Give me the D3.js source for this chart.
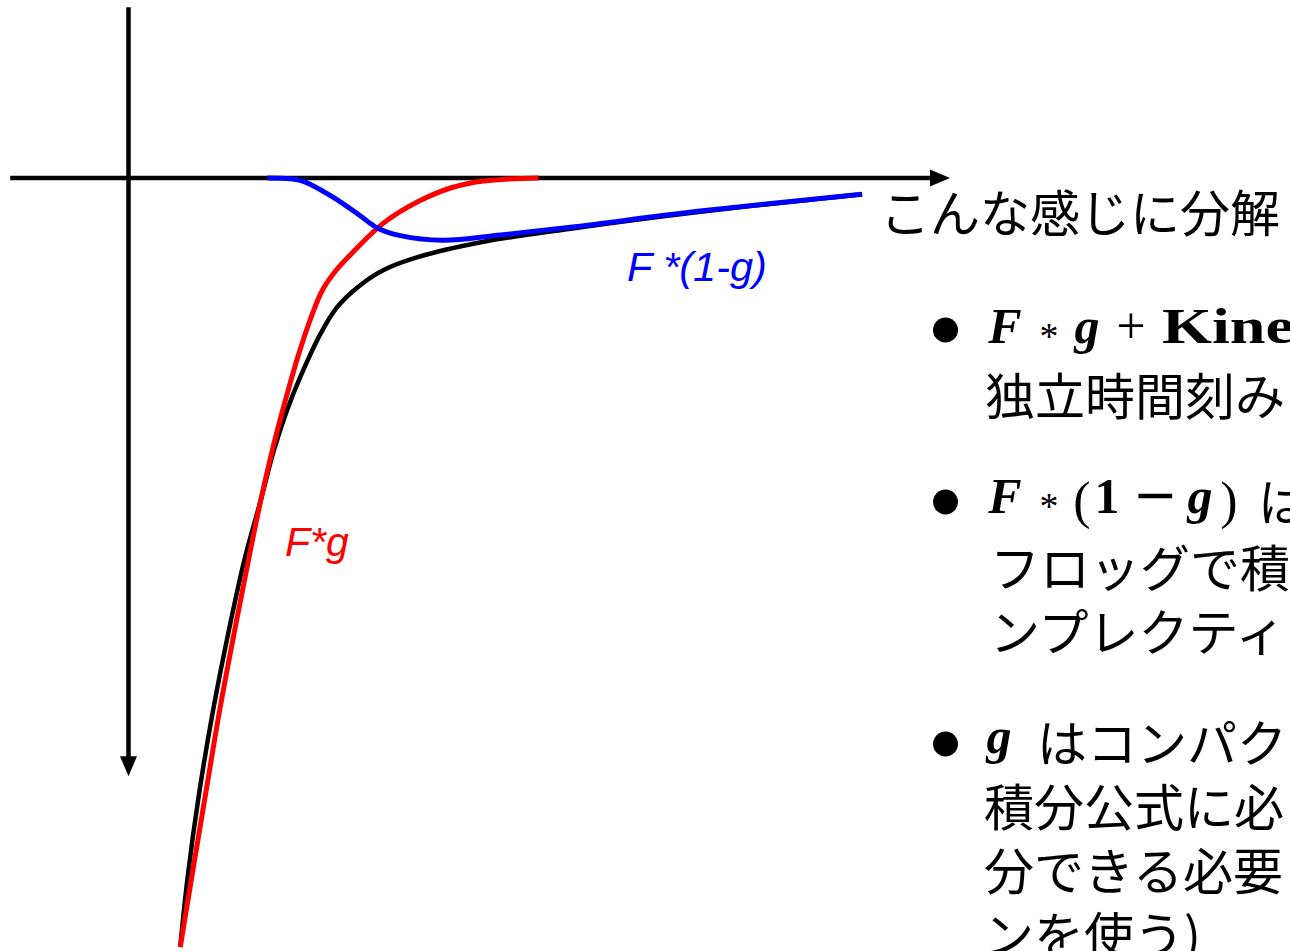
<!DOCTYPE html>
<html>
<head>
<meta charset="utf-8">
<script src="https://cdn.jsdelivr.net/npm/d3@7"></script>
<style>
  html, body { margin: 0; padding: 0; background: #fff; overflow: hidden; }
  svg { display: block; }
</style>
</head>
<body>
<svg id="chart" width="1290" height="951"></svg>
<script>
// Total potential F (black), short-range part F*g (red), long-range part F*(1-g) (blue)
const totalX = [6.3, 7.2, 8.6, 10.3, 12.3, 14.1, 16.1, 17.7, 19.3, 20.9, 23.4, 25.4, 27.9, 31.0, 35.2, 43.2, 53.8, 69.6, 89.3];
const totalY = [-100, -90.9, -80.0, -69.2, -58.4, -49.7, -41.9, -35.4, -30.2, -25.9, -20.2, -16.8, -14.2, -12.0, -10.3, -8.3, -6.6, -4.4, -2.1];

const shortX = [6.3, 7.7, 9.4, 11.1, 13.0, 14.6, 16.1, 17.6, 19.1, 20.6, 22.3, 23.6, 25.2, 27.0, 31.0, 35.2, 39.2, 43.2, 49.9];
const shortY = [-100, -90.9, -80.0, -69.2, -58.4, -49.7, -41.9, -35.0, -28.9, -23.3, -17.9, -14.6, -12.1, -10.0, -5.9, -3.1, -1.3, -0.4, 0];

const longX = [16.9, 19.7, 20.9, 22.1, 24.9, 28.2, 30.3, 33.1, 38.3, 45.3, 53.8, 69.6, 89.3];
const longY = [0, -0.1, -0.3, -0.8, -2.5, -4.9, -6.5, -7.5, -8.1, -7.4, -6.4, -4.3, -2.1];

// Axis extents (start, arrow tip) in data units
const xAxisExtent = [-14.4, 100];
const yAxisExtent = [22.2, -77.8];

const svg = d3.select("#chart");
const x = d3.scaleLinear().domain([0, 100]).range([128.5, 950]);
const y = d3.scaleLinear().domain([0, -100]).range([178, 947]);

const zip = (xs, ys) => xs.map((v, i) => [v, ys[i]]);

// ---- axes with arrowheads ----
const ax = svg.append("g");
const head = 20, half = 8.5;
const xTip = x(xAxisExtent[1]), y0 = y(0);
ax.append("line")
  .attr("x1", x(xAxisExtent[0])).attr("x2", xTip - head + 2)
  .attr("y1", y0).attr("y2", y0)
  .attr("stroke", "#000").attr("stroke-width", 4.5);
ax.append("path")
  .attr("d", `M${xTip},${y0} L${xTip - head},${y0 - half} L${xTip - head},${y0 + half} Z`)
  .attr("fill", "#000");

const yTip = y(yAxisExtent[1]), x0 = x(0);
ax.append("line")
  .attr("x1", x0).attr("x2", x0)
  .attr("y1", y(yAxisExtent[0])).attr("y2", yTip - head + 2)
  .attr("stroke", "#000").attr("stroke-width", 4.5);
ax.append("path")
  .attr("d", `M${x0},${yTip} L${x0 - half},${yTip - head} L${x0 + half},${yTip - head} Z`)
  .attr("fill", "#000");

// ---- curves ----
const line = d3.line()
  .x(d => x(d[0]))
  .y(d => y(d[1]))
  .curve(d3.curveCatmullRom.alpha(0.5));

const series = [
  { pts: zip(totalX, totalY), color: "#000000", width: 4.5 },
  { pts: zip(shortX, shortY), color: "#ff0000", width: 5 },
  { pts: zip(longX, longY), color: "#0000ff", width: 5 }
];
series.forEach(s => {
  svg.append("path")
    .attr("d", line(s.pts))
    .attr("fill", "none")
    .attr("stroke", s.color)
    .attr("stroke-width", s.width)
    .attr("stroke-linecap", "butt")
    .attr("stroke-linejoin", "round");
});

// ---- curve labels ----
const sans = "'Liberation Sans', Arial, sans-serif";
svg.append("text")
  .attr("x", 627).attr("y", 281)
  .attr("font-family", sans).attr("font-style", "italic")
  .attr("font-size", 41.5).attr("fill", "#0000ff")
  .text("F *(1-g)");
svg.append("text")
  .attr("x", 285).attr("y", 556)
  .attr("font-family", sans).attr("font-style", "italic")
  .attr("font-size", 41).attr("fill", "#ff0000")
  .text("F*g");

// ---- side text ----
const cjk = "'Noto Sans CJK JP', sans-serif";
const serif = "'Liberation Serif', serif";

svg.append("text")
  .attr("x", 880).attr("y", 210)
  .attr("dominant-baseline", "central")
  .attr("font-family", cjk).attr("font-size", 50).attr("fill", "#000")
  .text("こんな感じに分解");

function cjkLine(xp, yc, str) {
  svg.append("text")
    .attr("x", xp).attr("y", yc)
    .attr("dominant-baseline", "central")
    .attr("font-family", cjk).attr("font-size", 50).attr("fill", "#000")
    .text(str);
}
// a math glyph centred horizontally on cx
function glyph(cx, yb, str, o) {
  const t = svg.append("text")
    .attr("x", cx).attr("y", yb)
    .attr("text-anchor", o.anchor || "middle")
    .attr("font-family", o.family || serif)
    .attr("font-size", o.size || 50)
    .attr("fill", "#000");
  if (o.bold) t.attr("font-weight", "bold");
  if (o.italic) t.attr("font-style", "italic");
  if (o.len) t.attr("textLength", o.len).attr("lengthAdjust", "spacingAndGlyphs");
  t.text(str);
}
function bullet(yc) {
  svg.append("circle").attr("cx", 945.5).attr("cy", yc).attr("r", 12.5).attr("fill", "#000");
}
// asterisk operator, lowered onto the math axis
const star = (cx, yb) => glyph(cx, yb + 6, "*", { size: 38 });

// item 1
bullet(330);
glyph(1005, 343, "F", { bold: true, italic: true });
star(1049, 343);
glyph(1087, 343, "g", { bold: true, italic: true });
glyph(1131, 343, "+", { size: 52 });
glyph(1162, 343, "Kine", { bold: true, size: 50, anchor: "start", len: 132 });
cjkLine(985, 393, "独立時間刻み");

// item 2
bullet(502);
glyph(1005, 513, "F", { bold: true, italic: true });
star(1049, 513);
glyph(1082, 518, "(", { size: 52 });
glyph(1107, 513, "1", { bold: true, size: 50 });
glyph(1155, 513, "−", { family: "'DejaVu Sans', sans-serif", size: 54 });
glyph(1200, 513, "g", { bold: true, italic: true });
glyph(1229, 518, ")", { size: 52 });
cjkLine(1258, 499, "は");
cjkLine(990, 565, "フロッグで積");
cjkLine(990, 629, "ンプレクティ");

// item 3
bullet(744);
glyph(999, 753, "g", { bold: true, italic: true });
cjkLine(1037, 740, "はコンパク");
cjkLine(984, 804, "積分公式に必");
cjkLine(984, 868, "分できる必要");
cjkLine(984, 932, "ンを使う)");
</script>
</body>
</html>
